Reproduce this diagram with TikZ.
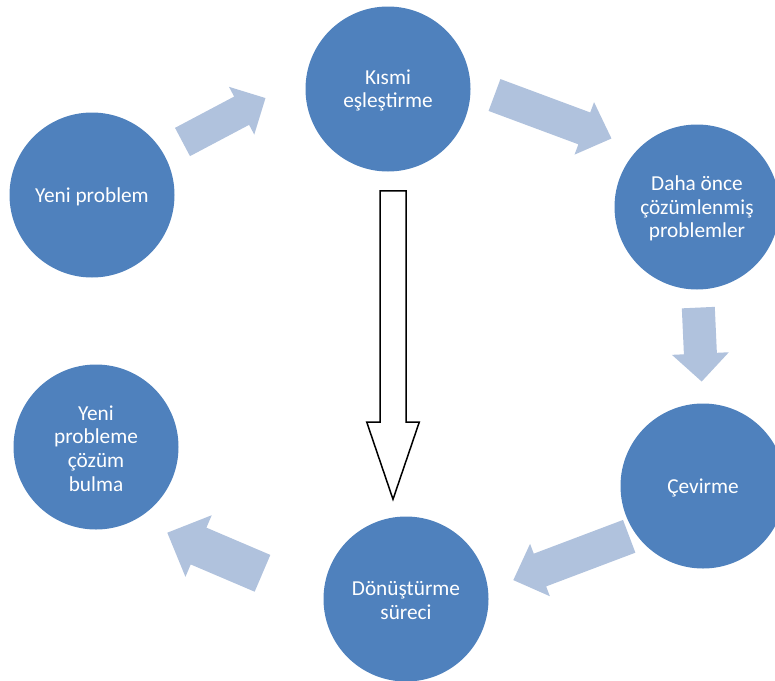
\documentclass[tikz,border=0pt]{standalone}
\usepackage{fontspec}
\setmainfont{Carlito}
\definecolor{stepblue}{RGB}{79,129,189}
\definecolor{flowblue}{RGB}{176,194,221}
% block arrow: [style]{tail centre}{angle}{length}{shaft width}{head width}{head length}
\newcommand\blockarrow[7][]{%
  \begin{scope}[shift={(#2)}, rotate=#3]
    \path[#1] (0,-#5/2) -- ({#4-#7},-#5/2) -- ({#4-#7},-#6/2) -- (#4,0)
      -- ({#4-#7},#6/2) -- ({#4-#7},#5/2) -- (0,#5/2) -- cycle;
  \end{scope}}
\tikzset{
  stepnode/.style={circle, fill=stepblue, minimum size=165pt, inner sep=0pt,
    text=white, align=center, font=\fontsize{21.3}{23.8}\selectfont},
  steptext/.style={yshift=-1.5pt},
  flowarrow/.style={fill=flowblue},
  mainarrow/.style={draw=black, line width=1.5pt, fill=white, line join=miter}
}
\begin{document}
\begin{tikzpicture}[x=1pt, y=-1pt]
  \useasboundingbox (0,0) rectangle (775,680);
  \clip (0,0) rectangle (775,680);
  % cycle steps (circles) with their labels set slightly low, as in Word
  \node[stepnode] (yeni)   at (92,195)  {};
  \node[stepnode] (kismi)  at (388,89)  {};
  \node[stepnode] (daha)   at (697,207) {};
  \node[stepnode] (cevir)  at (703,486) {};
  \node[stepnode] (donus)  at (406,599) {};
  \node[stepnode] (cozum)  at (96,447)  {};
  \node[stepnode, fill=none, steptext] at (yeni)  {Yeni problem};
  \node[stepnode, fill=none, steptext] at (kismi) {Kısmi\\eşleştirme};
  \node[stepnode, fill=none, steptext] at (daha)  {Daha önce\\çözümlenmiş\\problemler};
  \node[stepnode, fill=none, steptext] at (cevir) {Çevirme};
  \node[stepnode, fill=none, steptext] at (donus) {Dönüştürme\\süreci};
  \node[stepnode, fill=none, steptext] at (cozum) {Yeni\\probleme\\çözüm\\bulma};
  % flow arrows between the steps
  \blockarrow[flowarrow]{182.5,142}{27.9}{93.9}{32}{54}{27}
  \blockarrow[flowarrow]{494.5,95}{-20.4}{124.8}{34}{56}{29}
  \blockarrow[flowarrow]{698.3,307.6}{-87.4}{74}{33}{57}{28}
  \blockarrow[flowarrow]{629.2,536.3}{200.7}{123.9}{35}{56}{28.5}
  \blockarrow[flowarrow]{262.5,573.3}{156.9}{103.5}{40}{67}{34}
  % direct path from matching to transformation
  \blockarrow[mainarrow]{393,190.8}{-90}{308.5}{26}{52.6}{77.3}
\end{tikzpicture}
\end{document}
